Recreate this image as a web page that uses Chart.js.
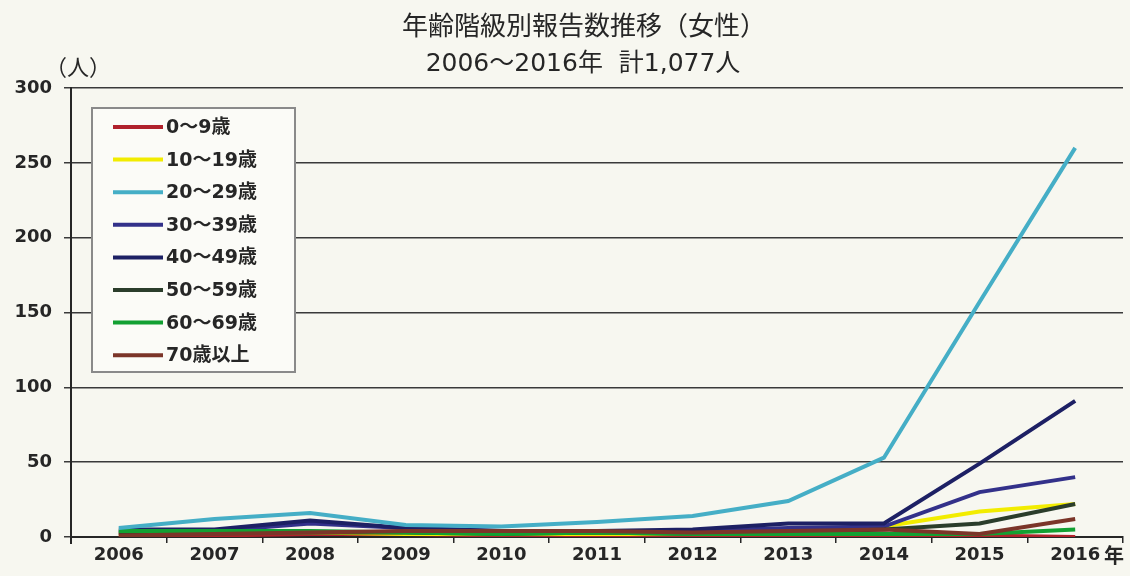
<!DOCTYPE html>
<html>
<head>
<meta charset="utf-8">
<script src="https://cdn.jsdelivr.net/npm/chart.js@4/dist/chart.umd.min.js"></script>
<style>
  html, body { margin: 0; padding: 0; background: #f7f7f0; }
  #wrap { width: 1130px; height: 576px; position: relative; }
</style>
</head>
<body>
<div id="wrap"><canvas id="chart" width="1130" height="576"></canvas></div>
<script>
const years = ["2006", "2007", "2008", "2009", "2010", "2011", "2012", "2013", "2014", "2015", "2016"];
const yTicks = [0, 50, 100, 150, 200, 250, 300];

const age0to9   = [1, 1, 2, 2, 1, 1, 1, 1, 1, 1, 0];
const age10to19 = [2, 3, 3, 2, 2, 2, 2, 3, 7, 17, 22];
const age20to29 = [6, 12, 16, 8, 7, 10, 14, 24, 53, 157, 260];
const age30to39 = [3, 4, 9, 6, 4, 4, 4, 6, 7, 30, 40];
const age40to49 = [5, 5, 11, 6, 4, 4, 5, 9, 9, 49, 91];
const age50to59 = [3, 3, 3, 3, 2, 3, 2, 3, 5, 9, 22];
const age60to69 = [4, 4, 4, 3, 2, 3, 2, 2, 2, 2, 5];
const age70plus = [1, 2, 3, 4, 4, 4, 3, 4, 5, 2, 12];

const seriesNames = ["0〜9歳", "10〜19歳", "20〜29歳", "30〜39歳", "40〜49歳", "50〜59歳", "60〜69歳", "70歳以上"];
const seriesData = [age0to9, age10to19, age20to29, age30to39, age40to49, age50to59, age60to69, age70plus];
const seriesColors = ["#b0212c", "#f2ec00", "#45aec6", "#33318a", "#1d2064", "#2b3d2b", "#12a032", "#7b3529"];

const FONT = "'DejaVu Sans', 'Noto Sans CJK JP', sans-serif";
const CJK = "'Noto Sans CJK JP', sans-serif";
const INK = "#262626";

const datasets = seriesNames.map((name, i) => ({
  label: name,
  data: seriesData[i],
  borderColor: seriesColors[i],
  backgroundColor: seriesColors[i],
  borderWidth: 4,
  pointRadius: 0,
  tension: 0,
  order: i === 2 ? 0 : 8 - i
}));

const decor = {
  id: 'decor',
  beforeDraw(chart) {
    const ctx = chart.ctx;
    ctx.save();
    ctx.fillStyle = "#f7f7f0";
    ctx.fillRect(0, 0, chart.width, chart.height);
    ctx.restore();
  },
  afterDraw(chart) {
    const ctx = chart.ctx;
    const area = chart.chartArea;
    ctx.save();
    ctx.fillStyle = INK;
    ctx.textAlign = "center";
    ctx.textBaseline = "middle";
    ctx.font = "26px " + CJK;
    ctx.fillText("年齢階級別報告数推移（女性）", 584, 25);
    ctx.font = "25px " + FONT;
    ctx.fillText("2006〜2016年  計1,077人", 583, 64);

    ctx.font = "22px " + CJK;
    ctx.fillText("（人）", 78, 67);
    ctx.textAlign = "left";
    ctx.font = "bold 20px " + CJK;
    ctx.fillText("年", 1104, 555);

    // legend box
    const bx = 92, by = 108, bw = 203, bh = 264;
    ctx.fillStyle = "#fbfbf7";
    ctx.fillRect(bx, by, bw, bh);
    ctx.strokeStyle = "#8a8a8a";
    ctx.lineWidth = 2;
    ctx.strokeRect(bx, by, bw, bh);
    ctx.font = "bold 19px " + FONT;
    chart.data.datasets.forEach((ds, i) => {
      const y = 127 + i * 32.6;
      ctx.strokeStyle = ds.borderColor;
      ctx.lineWidth = 4;
      ctx.beginPath();
      ctx.moveTo(113, y);
      ctx.lineTo(163, y);
      ctx.stroke();
      ctx.fillStyle = INK;
      ctx.textAlign = "left";
      ctx.fillText(ds.label, 166, y + 1);
    });

    // axis line extension
    ctx.strokeStyle = INK;
    ctx.lineWidth = 2;
    ctx.beginPath();
    ctx.moveTo(area.left, area.top);
    ctx.lineTo(area.left, area.bottom + 7);
    ctx.stroke();
    ctx.restore();
  }
};

new Chart(document.getElementById("chart"), {
  type: 'line',
  data: { labels: years, datasets },
  plugins: [decor],
  options: {
    responsive: false,
    animation: false,
    layout: { padding: { top: 88, right: 7, left: 0, bottom: 0 } },
    plugins: {
      legend: { display: false },
      tooltip: { enabled: false }
    },
    scales: {
      x: {
        offset: true,
        grid: {
          offset: true,
          drawOnChartArea: false,
          drawTicks: true,
          tickLength: 6,
          color: INK,
          lineWidth: 1.5
        },
        border: { display: true, color: INK, width: 2 },
        ticks: {
          color: INK,
          font: { family: FONT, size: 18, weight: 'bold' },
          padding: 2,
          maxRotation: 0
        },
        afterFit(scale) { scale.height = 39; }
      },
      y: {
        min: 0,
        max: 300,
        afterBuildTicks(scale) { scale.ticks = yTicks.map(v => ({ value: v })); },
        grid: {
          color: "#3a3a3a",
          lineWidth: 1.5,
          tickLength: 7,
          drawTicks: true
        },
        border: { display: true, color: INK, width: 2 },
        ticks: {
          color: INK,
          font: { family: FONT, size: 18, weight: 'bold' },
          padding: 12
        },
        afterFit(scale) { scale.width = 71; }
      }
    }
  }
});
</script>
</body>
</html>
